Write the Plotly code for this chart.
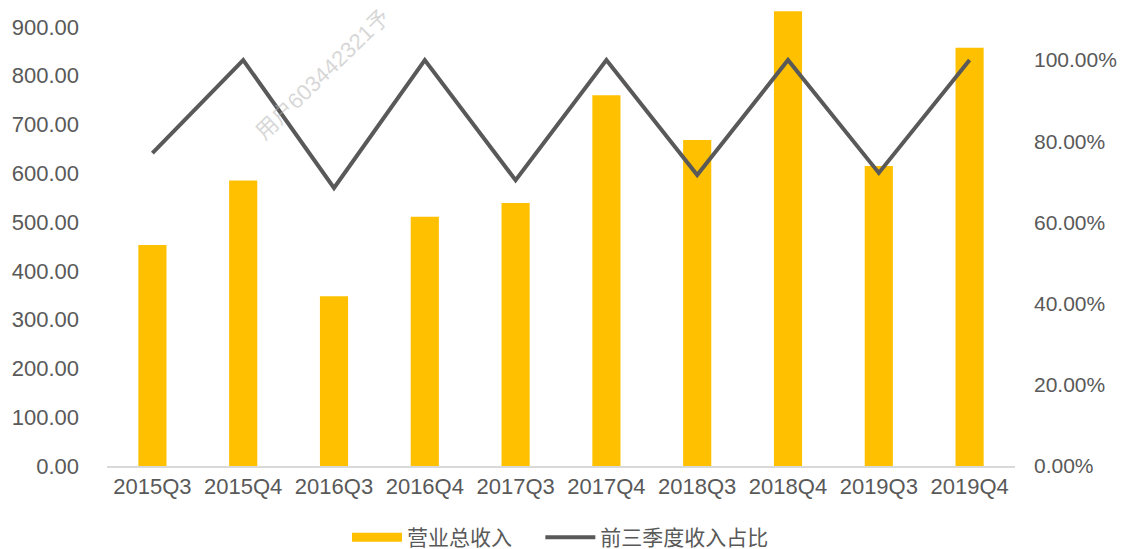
import plotly.graph_objects as go

categories = ["2015Q3", "2015Q4", "2016Q3", "2016Q4", "2017Q3",
              "2017Q4", "2018Q3", "2018Q4", "2019Q3", "2019Q4"]
revenue = [453, 585, 348, 511, 539, 760, 668, 932, 615, 857]
share_pct = [0.771, 1.0, 0.685, 1.0, 0.704, 1.0, 0.717, 1.0, 0.722, 1.0]
left_ticks = [0, 100, 200, 300, 400, 500, 600, 700, 800, 900]
right_ticks = [0, 0.2, 0.4, 0.6, 0.8, 1.0]

FONT = "Liberation Sans, Arial, Noto Sans CJK SC, sans-serif"
TXT = "#595959"
BAR = "#FFC000"
LINE = "#595959"

L, R, T, B = 107, 106, 0, 83
W, H = 1121, 549
NBSP = "\u00a0"

fig = go.Figure()
fig.add_trace(go.Bar(x=categories, y=revenue, name="营业总收入",
                     marker=dict(color=BAR, line=dict(width=0)),
                     showlegend=False))
# legend-only entry to mimic the wide rectangular swatch
fig.add_trace(go.Scatter(x=[None], y=[None], name="营业总收入" + NBSP * 4, mode="lines",
                         line=dict(color=BAR, width=9), showlegend=True))
fig.add_trace(go.Scatter(x=categories, y=share_pct, name="前三季度收入占比",
                         mode="lines", yaxis="y2",
                         line=dict(color=LINE, width=4)))

plot_w = W - L - R
plot_h = H - T - B

fig.update_layout(
    width=W, height=H,
    margin=dict(l=L, r=R, t=T, b=B, autoexpand=False),
    paper_bgcolor="white", plot_bgcolor="white",
    font=dict(family=FONT, size=20, color=TXT),
    bargap=0.69,
    showlegend=True,
    legend=dict(orientation="h", x=0.5, xanchor="center", xref="container",
                y=-(B + 9) / plot_h, yanchor="bottom", yref="paper",
                font=dict(size=21, color=TXT), itemwidth=50,
                traceorder="normal"),
    xaxis=dict(showgrid=False, showline=True, linecolor="#D9D9D9", linewidth=1.5,
               ticks="", automargin=False, tickfont=dict(size=22, color=TXT)),
    yaxis=dict(range=[0, 955], tickvals=left_ticks,
               ticktext=[f"{v:.2f}" for v in left_ticks],
               showgrid=False, zeroline=False, showline=False, ticks="",
               automargin=False, ticklabelstandoff=27,
               tickfont=dict(size=22, color=TXT)),
    yaxis2=dict(range=[0, 1.148], overlaying="y", side="right",
                tickvals=right_ticks,
                ticktext=[f"{v*100:.2f}%" for v in right_ticks],
                showgrid=False, zeroline=False, showline=False, ticks="",
                automargin=False, ticklabelstandoff=18,
                tickfont=dict(size=21, color=TXT)),
    annotations=[dict(text="用户603442321予",
                      x=(248 - L) / plot_w, y=(plot_h - 2) / plot_h,
                      xref="paper", yref="paper",
                      showarrow=False, textangle=-44,
                      font=dict(size=22, color="rgba(175,175,175,0.5)"))],
)

fig.write_html("out.html",
               config={"displayModeBar": False},
               post_script="document.body.style.margin='0';document.body.style.padding='0';")
